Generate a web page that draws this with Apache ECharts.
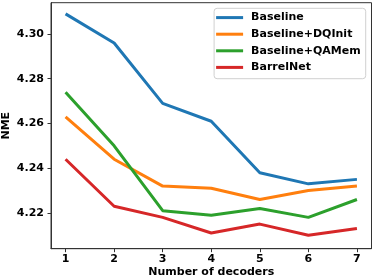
<!DOCTYPE html>
<html>
<head>
<meta charset="utf-8">
<script src="https://cdn.jsdelivr.net/npm/echarts@6/dist/echarts.min.js"></script>
<style>
html,body{margin:0;padding:0;background:#fff;}
#c{width:374px;height:280px;}
</style>
</head>
<body>
<div id="c"></div>
<script>
const decoders = [1, 2, 3, 4, 5, 6, 7];
const baseline = [4.309, 4.296, 4.269, 4.261, 4.238, 4.233, 4.235];
const baselineDQInit = [4.263, 4.244, 4.232, 4.231, 4.226, 4.230, 4.232];
const baselineQAMem = [4.274, 4.250, 4.221, 4.219, 4.222, 4.218, 4.226];
const barrelNet = [4.244, 4.223, 4.218, 4.211, 4.215, 4.210, 4.213];
const yTicks = [4.22, 4.24, 4.26, 4.28, 4.30];
const seriesNames = ['Baseline', 'Baseline+DQInit', 'Baseline+QAMem', 'BarrelNet'];
const colors = ['#1f77b4', '#ff7f0e', '#2ca02c', '#d62728'];
const allValues = [baseline, baselineDQInit, baselineQAMem, barrelNet];

const font = 'DejaVu Sans';
const fs = 11;
const chart = echarts.init(document.getElementById('c'), null, {renderer: 'canvas'});
chart.setOption({
  animation: false,
  backgroundColor: '#fff',
  grid: {left: 51, right: 2.5, top: 2.7, bottom: 31.3, show: true, borderColor: '#333', borderWidth: 1, containLabel: false, outerBoundsMode: 'none'},
  legend: {
    orient: 'vertical',
    right: 8.3,
    top: 8.3,
    data: seriesNames,
    icon: 'rect',
    itemWidth: 27,
    itemHeight: 3,
    itemGap: 0,
    padding: [1, 5, 3, 2],
    backgroundColor: '#fff',
    borderColor: '#d0d0d0',
    borderWidth: 1,
    borderRadius: 3,
    textStyle: {fontFamily: font, fontWeight: 'bold', fontSize: fs, color: '#000', lineHeight: 16.6, padding: [0, 0, 0, 3]}
  },
  xAxis: {
    type: 'value',
    min: 0.7,
    max: 7.3,
    name: 'Number of decoders',
    nameLocation: 'middle',
    nameGap: 18,
    nameMoveOverlap: false,
    nameTextStyle: {fontFamily: font, fontWeight: 'bold', fontSize: fs, color: '#000'},
    splitLine: {show: false},
    axisLine: {show: true, onZero: false, lineStyle: {color: '#333', width: 1}},
    axisTick: {show: true, length: 3.5, lineStyle: {color: '#333'}, customValues: decoders},
    axisLabel: {customValues: decoders, margin: 5, fontFamily: font, fontWeight: 'bold', fontSize: fs, color: '#000', formatter: v => String(v)}
  },
  yAxis: {
    type: 'value',
    min: 4.204,
    max: 4.314,
    name: 'NME',
    nameLocation: 'middle',
    nameGap: 39,
    nameMoveOverlap: false,
    nameTextStyle: {fontFamily: font, fontWeight: 'bold', fontSize: fs, color: '#000'},
    splitLine: {show: false},
    axisLine: {show: true, onZero: false, lineStyle: {color: '#333', width: 1}},
    axisTick: {show: true, length: 3.5, lineStyle: {color: '#333'}, customValues: yTicks},
    axisLabel: {customValues: yTicks, margin: 7, fontFamily: font, fontWeight: 'bold', fontSize: fs, color: '#000', formatter: v => v.toFixed(2)}
  },
  series: allValues.map((vals, i) => ({
    name: seriesNames[i],
    type: 'line',
    data: decoders.map((d, j) => [d, vals[j]]),
    showSymbol: false,
    symbol: 'none',
    color: colors[i],
    lineStyle: {width: 3, color: colors[i]}
  }))
});
</script>
</body>
</html>
